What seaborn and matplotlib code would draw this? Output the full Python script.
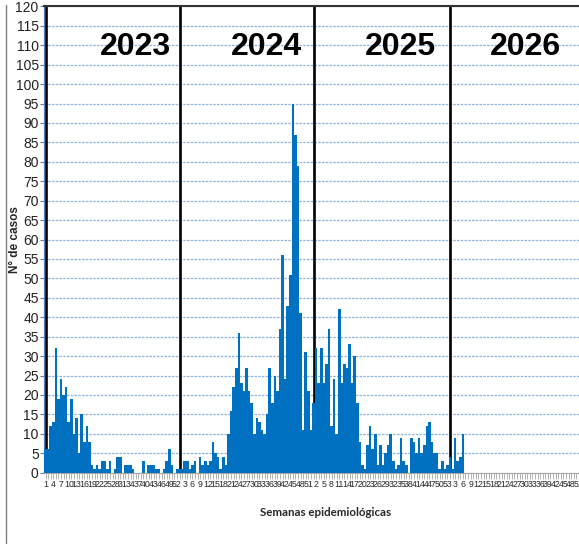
import numpy as np
import pandas as pd
import matplotlib
matplotlib.use("Agg")
import matplotlib.pyplot as plt
from matplotlib.lines import Line2D
import seaborn as sns

# ---- data ----
years = ["2023", "2024", "2025", "2026"]
weeks_per_year = [52, 52, 53, 52]
cases_2023 = [6, 6, 12, 13, 32, 19, 24, 20, 22, 13, 19, 10, 14, 5, 15, 8, 12, 8, 2, 1,
              2, 1, 3, 3, 1, 3, 0, 1, 4, 4, 0, 2, 2, 2, 1, 0, 0, 0, 3, 0,
              2, 2, 2, 1, 1, 0, 1, 3, 6, 2, 0, 1]
cases_2024 = [1, 1, 3, 3, 1, 2, 3, 0, 4, 2, 3, 2, 3, 8, 5, 4, 1, 4, 2, 10,
              16, 22, 27, 36, 23, 21, 27, 21, 18, 10, 14, 13, 11, 10, 15, 27, 18, 25, 21, 37,
              56, 24, 43, 51, 95, 87, 79, 41, 11, 31, 21, 11]
cases_2025 = [18, 32, 23, 32, 23, 28, 37, 12, 24, 10, 42, 23, 28, 27, 33, 23, 30, 18, 8, 2,
              1, 7, 12, 6, 10, 2, 7, 2, 5, 7, 10, 3, 1, 2, 9, 3, 2, 0, 9, 8,
              5, 9, 5, 7, 12, 13, 8, 5, 5, 1, 3, 1, 2]
cases_2026 = [4, 1, 9, 3, 4, 10]
y_ticks = list(range(0, 121, 5))

series = [cases_2023, cases_2024, cases_2025, cases_2026]
rows = []
for yr, nw, vals in zip(years, weeks_per_year, series):
    for w in range(1, nw + 1):
        v = vals[w - 1] if w <= len(vals) else np.nan
        rows.append({"key": f"{yr}-{w:02d}", "year": yr, "week": w, "cases": v})
df = pd.DataFrame(rows)

# ---- figure ----
sns.set_theme(style="white")
plt.rcParams["font.family"] = ["Liberation Sans", "DejaVu Sans"]

W, H = 579, 546
fig = plt.figure(figsize=(W / 100, H / 100), dpi=100)
x_left, x_right = 44.3, 582.7
y_bot, y_top = 472.7, 6.4
ax = fig.add_axes([x_left / W, 1 - y_bot / H, (x_right - x_left) / W, (y_bot - y_top) / H])

bar_color = "#0070C0"
sns.barplot(data=df, x="key", y="cases", color=bar_color, saturation=1, width=1.0,
            linewidth=0, edgecolor="none", ax=ax, zorder=3, errorbar=None)

n = len(df)
ax.set_xlim(-0.5, n - 0.5)
ax.set_ylim(0, 120)

# grid
ax.set_yticks(y_ticks)
ax.yaxis.grid(True, color="#8DB4E2", linestyle=(0, (2, 1)), linewidth=0.9, zorder=0)
ax.xaxis.grid(False)
ax.set_axisbelow(True)

# year separator lines at the first week of each year
starts = np.cumsum([0] + weeks_per_year[:-1])
for s in starts:
    ax.axvline(s, color="black", linewidth=1.9, zorder=2)

# year labels
year_centers_px = [135, 266, 400, 525]
for yr, cx in zip(years, year_centers_px):
    fig.text(cx / W, 1 - 47 / H, yr, ha="center", va="center", fontsize=23,
             fontweight="bold", color="black")

# x ticks every 3rd category
tick_pos = list(range(0, n, 3))
ax.set_xticks(tick_pos)
ax.set_xticklabels([str(df["week"].iloc[p]) for p in tick_pos], fontsize=6.3)
ax.set_xticks(np.arange(n), minor=True)
ax.tick_params(axis="x", which="both", direction="out", length=4, width=0.6,
               color="#A6A6A6", pad=1.5, bottom=True)
ax.tick_params(axis="y", direction="out", length=3, width=0.8, color="#4F81BD",
               labelsize=10, pad=1, left=True)
for lab in ax.get_yticklabels():
    lab.set_color("#222222")

ax.set_xlabel("")
ax.set_ylabel("")

# spines
ax.spines["left"].set_color("#4F81BD")
ax.spines["left"].set_linewidth(0.8)
ax.spines["bottom"].set_color("#A6A6A6")
ax.spines["bottom"].set_linewidth(0.8)
ax.spines["top"].set_visible(True)
ax.spines["top"].set_color("#333333")
ax.spines["top"].set_linewidth(1.5)
ax.spines["right"].set_visible(False)

# axis titles
fig.text(15 / W, 1 - 240 / H, "N° de casos", rotation=90, ha="center", va="center",
         fontsize=8.5, fontweight="bold")
fig.text(326 / W, 1 - 513 / H, "Semanas epidemiológicas", ha="center", va="center",
         fontsize=8.3, fontweight="bold", family=["Lato", "Liberation Sans", "DejaVu Sans"])

# outer frame of the original chart
fig.add_artist(Line2D([6 / W, 6 / W], [1 - 543 / H, 1 - 5 / H], transform=fig.transFigure,
                      color="#7F7F7F", linewidth=1.0))

fig.savefig("out.png", dpi=100)
